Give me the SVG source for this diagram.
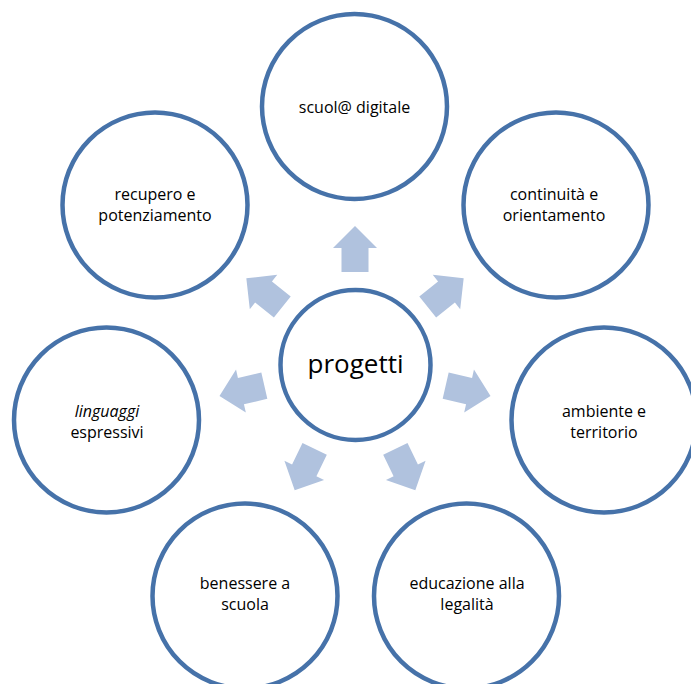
<svg xmlns="http://www.w3.org/2000/svg" xmlns:xlink="http://www.w3.org/1999/xlink" width="691" height="684" viewBox="0 0 691 684">
<style>
.ring{fill:#ffffff;stroke:#4672a9;stroke-width:4.5}
.lbl{font-family:"Open Sans","Liberation Sans",sans-serif;font-size:16px;fill:#000000;text-anchor:middle}
.big{font-family:"Open Sans","Liberation Sans",sans-serif;font-size:26px;fill:#000000;text-anchor:middle}
.arr{fill:#b0c2de}
</style>
<defs>
<polygon id="arrow" class="arr" points="93,-13.5 117,-13.5 117,-22 139,0 117,22 117,13.5 93,13.5"/>
</defs>
<rect width="691" height="684" fill="#ffffff"/>
<g id="connectors">
<use xlink:href="#arrow" href="#arrow" transform="translate(355,365) rotate(-90)"/>
<use xlink:href="#arrow" href="#arrow" transform="translate(355,365) rotate(-38.57)"/>
<use xlink:href="#arrow" href="#arrow" transform="translate(355,365) rotate(12.86)"/>
<use xlink:href="#arrow" href="#arrow" transform="translate(355,365) rotate(64.29)"/>
<use xlink:href="#arrow" href="#arrow" transform="translate(355,365) rotate(115.71)"/>
<use xlink:href="#arrow" href="#arrow" transform="translate(355,365) rotate(167.14)"/>
<use xlink:href="#arrow" href="#arrow" transform="translate(355,365) rotate(218.57)"/>
</g>
<g id="progetti">
<circle class="ring" cx="355.5" cy="365" r="75"/>
<text class="big" x="355.5" y="373">progetti</text>
</g>
<g id="scuola-digitale">
<circle class="ring" cx="354.5" cy="106.5" r="92.5"/>
<text class="lbl" x="354.5" y="113">scuol@ digitale</text>
</g>
<g id="continuita">
<circle class="ring" cx="556" cy="205" r="92.5"/>
<text class="lbl" x="554" y="200">continuità e</text>
<text class="lbl" x="554" y="220.5">orientamento</text>
</g>
<g id="ambiente">
<circle class="ring" cx="604" cy="420" r="92.5"/>
<text class="lbl" x="604" y="417">ambiente e</text>
<text class="lbl" x="604" y="437.5">territorio</text>
</g>
<g id="educazione">
<circle class="ring" cx="466.5" cy="596" r="92.5"/>
<text class="lbl" x="467" y="589">educazione alla</text>
<text class="lbl" x="467" y="610">legalità</text>
</g>
<g id="benessere">
<circle class="ring" cx="245" cy="596" r="92.5"/>
<text class="lbl" x="245" y="589">benessere a</text>
<text class="lbl" x="245" y="610">scuola</text>
</g>
<g id="linguaggi">
<circle class="ring" cx="106.5" cy="420" r="92.5"/>
<text class="lbl" x="107" y="417" font-style="italic">linguaggi</text>
<text class="lbl" x="107" y="437.5">espressivi</text>
</g>
<g id="recupero">
<circle class="ring" cx="155" cy="205" r="92.5"/>
<text class="lbl" x="155" y="200">recupero e</text>
<text class="lbl" x="155" y="220.5">potenziamento</text>
</g>
</svg>
